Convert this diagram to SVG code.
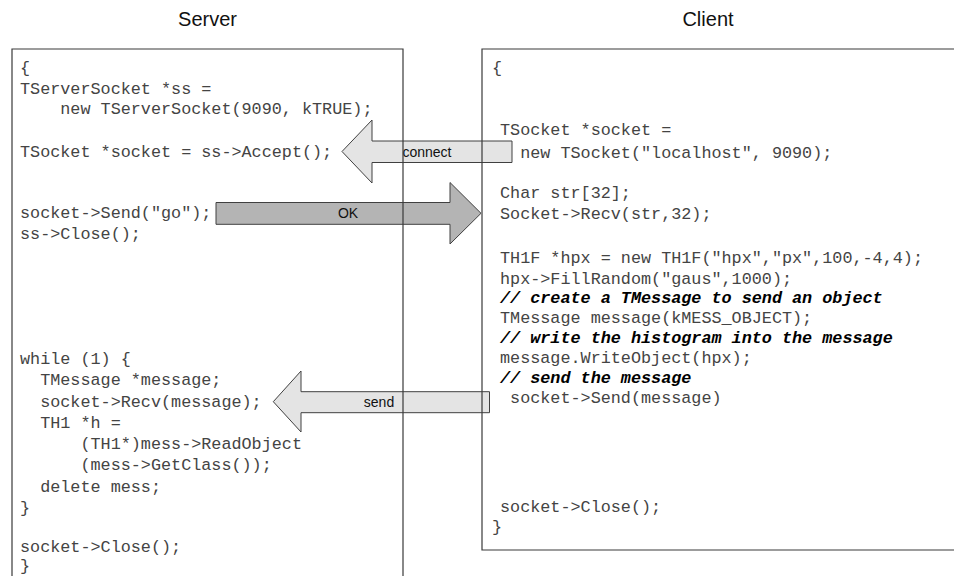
<svg xmlns="http://www.w3.org/2000/svg" width="954" height="576" viewBox="0 0 954 576">
<style>
.code{font-family:"Liberation Mono","Courier New",monospace;font-size:16.8px;fill:#444;white-space:pre}
.cmt{font-family:"Liberation Mono","Courier New",monospace;font-size:16.8px;fill:#000;font-weight:bold;font-style:italic;white-space:pre}
.title{font-family:"Liberation Sans",Arial,sans-serif;font-size:20px;fill:#111;text-anchor:middle}
.lbl{font-family:"Liberation Sans",Arial,sans-serif;font-size:14px;fill:#111;text-anchor:middle}
.box{fill:none;stroke:#3a3a3a;stroke-width:1.2}
.light{fill:#e4e4e4;stroke:#404040;stroke-width:1}
.dark{fill:#b4b4b4;stroke:#404040;stroke-width:1}
</style>
<rect width="954" height="576" fill="#fff"/>
<g id="connectors">
<g id="connect">
<polygon class="light" points="512,141 372,141 372,120 342,151.5 372,183 372,162.5 512,162.5"/>
<text class="lbl" x="427" y="156.5">connect</text>
</g>
<g id="ok">
<polygon class="dark" points="216,202.5 450,202.5 450,182.5 481,213.3 450,244 450,224.3 216,224.3"/>
<text class="lbl" x="348" y="218">OK</text>
</g>
<g id="send">
<polygon class="light" points="489.5,391.7 301,391.7 301,371 273.3,401.7 301,432 301,412.7 489.5,412.7"/>
<text class="lbl" x="379" y="406.5">send</text>
</g>
</g>
<g id="server">
<text class="title" x="207.5" y="26">Server</text>
<path class="box" d="M12,580 V49 H403 V580"/>
<text class="code" x="20" y="73">{</text>
<text class="code" x="20" y="93.5">TServerSocket *ss =</text>
<text class="code" x="20" y="114">    new TServerSocket(9090, kTRUE);</text>
<text class="code" x="20" y="157">TSocket *socket = ss-&gt;Accept();</text>
<text class="code" x="20" y="218">socket-&gt;Send("go");</text>
<text class="code" x="20" y="239">ss-&gt;Close();</text>
<text class="code" x="20" y="364">while (1) {</text>
<text class="code" x="20" y="385">  TMessage *message;</text>
<text class="code" x="20" y="406.5">  socket-&gt;Recv(message);</text>
<text class="code" x="20" y="428">  TH1 *h =</text>
<text class="code" x="20" y="449">      (TH1*)mess-&gt;ReadObject</text>
<text class="code" x="20" y="470">      (mess-&gt;GetClass());</text>
<text class="code" x="20" y="491.5">  delete mess;</text>
<text class="code" x="20" y="513">}</text>
<text class="code" x="20" y="552">socket-&gt;Close();</text>
<text class="code" x="20" y="571">}</text>
</g>
<g id="client">
<text class="title" x="708" y="26">Client</text>
<path class="box" d="M960,49 H482 V550 H960"/>
<text class="code" x="492" y="73">{</text>
<text class="code" x="500" y="135">TSocket *socket =</text>
<text class="code" x="500" y="158">  new TSocket("localhost", 9090);</text>
<text class="code" x="500" y="198">Char str[32];</text>
<text class="code" x="500" y="219">Socket-&gt;Recv(str,32);</text>
<text class="code" x="500" y="263">TH1F *hpx = new TH1F("hpx","px",100,-4,4);</text>
<text class="code" x="500" y="284">hpx-&gt;FillRandom("gaus",1000);</text>
<text class="cmt" x="500" y="303">// create a TMessage to send an object</text>
<text class="code" x="500" y="323">TMessage message(kMESS_OBJECT);</text>
<text class="cmt" x="500" y="343">// write the histogram into the message</text>
<text class="code" x="500" y="363">message.WriteObject(hpx);</text>
<text class="cmt" x="500" y="383">// send the message</text>
<text class="code" x="500" y="403"> socket-&gt;Send(message)</text>
<text class="code" x="500" y="511.5">socket-&gt;Close();</text>
<text class="code" x="492" y="532">}</text>
</g>
</svg>
